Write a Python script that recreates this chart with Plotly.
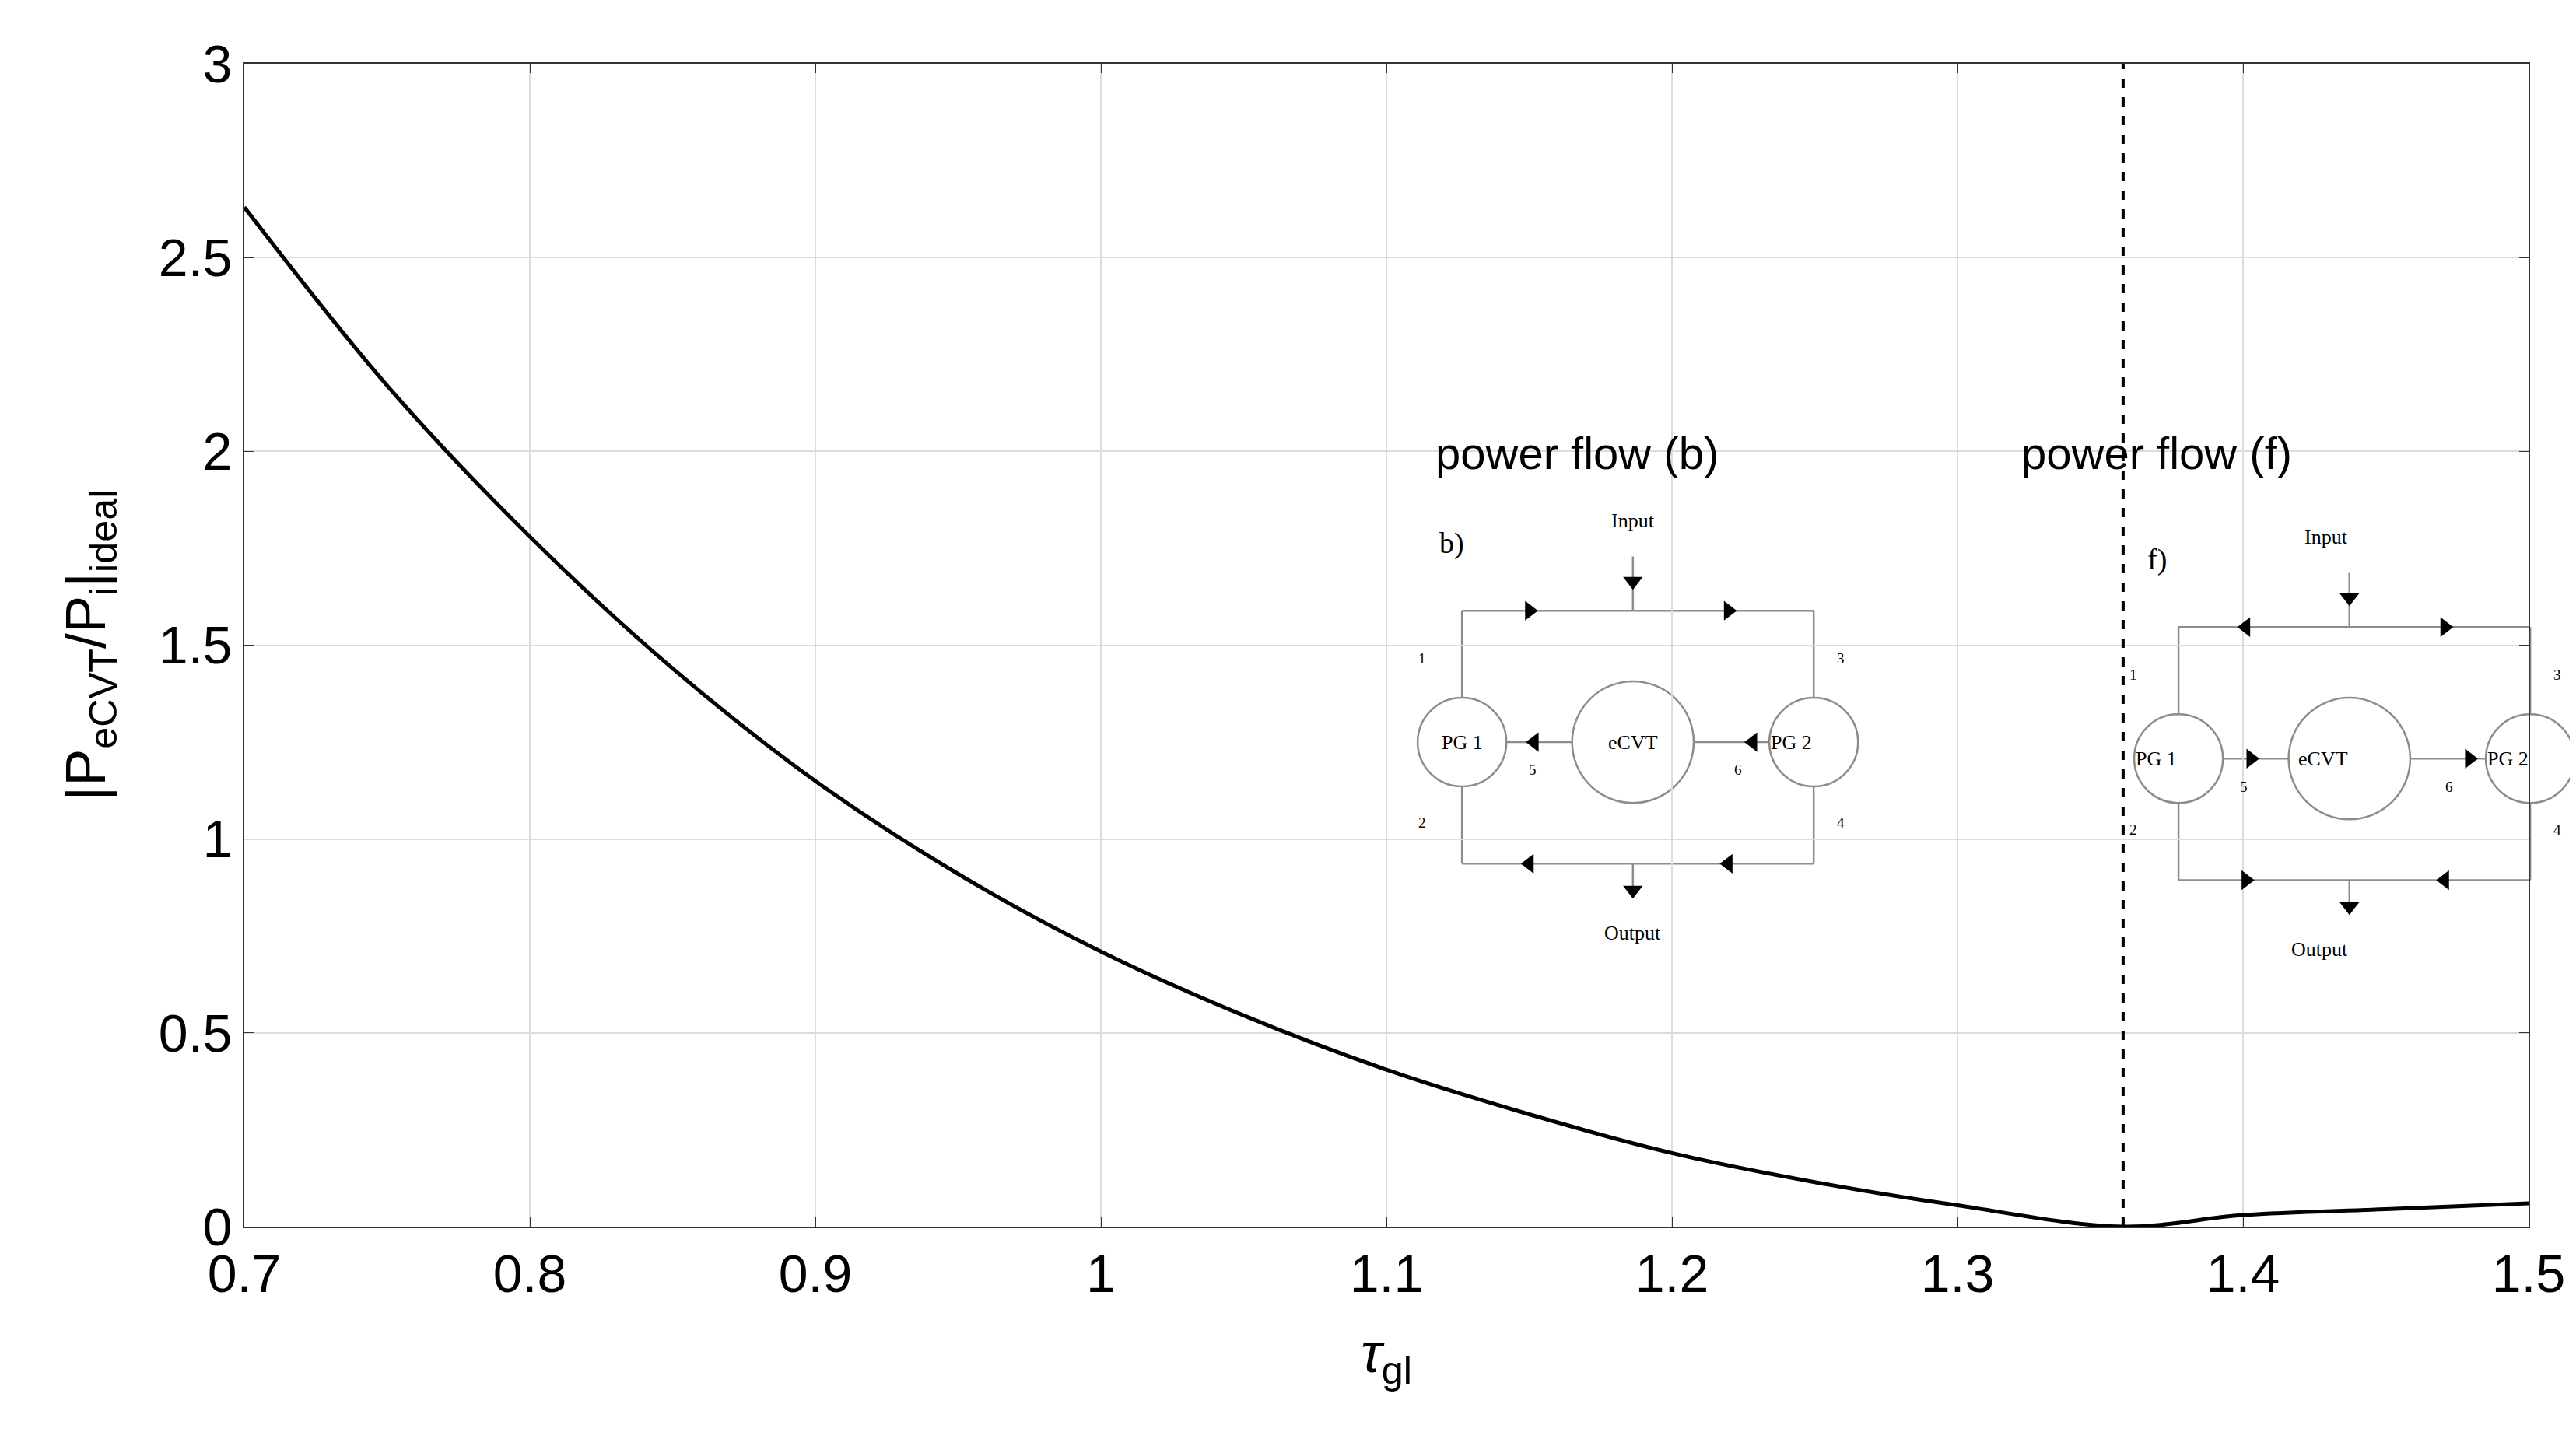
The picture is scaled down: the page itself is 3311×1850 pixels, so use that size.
import plotly.graph_objects as go

tau = [0.70, 0.75, 0.80, 0.85, 0.90, 0.95, 1.00, 1.05, 1.10, 1.15, 1.20, 1.25, 1.30, 1.358, 1.40, 1.45, 1.50]
ratio = [2.63, 2.17, 1.78, 1.44, 1.15, 0.91, 0.71, 0.545, 0.405, 0.29, 0.19, 0.115, 0.055, 0.0, 0.03, 0.045, 0.06]
x_ticks = [0.7, 0.8, 0.9, 1, 1.1, 1.2, 1.3, 1.4, 1.5]
y_ticks = [0, 0.5, 1, 1.5, 2, 2.5, 3]
switch_tau = 1.358

# reference pixel -> paper coords for the inset diagrams
def X(px):
    return (px - 145) / 1390.0

def Y(py):
    return (743 - py) / 708.0

GRAY = "#8c8c8c"
fig = go.Figure()
fig.add_trace(go.Scatter(x=tau, y=ratio, mode="lines", line=dict(color="black", width=5, shape="spline"),
                         showlegend=False))

shapes = []
annots = []
marks = {"x": [], "y": [], "s": []}

def line(x0, y0, x1, y1):
    shapes.append(dict(type="line", xref="paper", yref="paper", x0=X(x0), y0=Y(y0), x1=X(x1), y1=Y(y1),
                       line=dict(color=GRAY, width=2.5), layer="between"))

def circle(cx, cy, r):
    shapes.append(dict(type="circle", xref="paper", yref="paper", x0=X(cx - r), x1=X(cx + r), y0=Y(cy + r),
                       y1=Y(cy - r), line=dict(color=GRAY, width=2.5), fillcolor="white", layer="between"))

def text(px, py, t, size, font="Liberation Serif"):
    annots.append(dict(xref="paper", yref="paper", x=X(px), y=Y(py), text=t, showarrow=False,
                       font=dict(size=size, family=font, color="black")))

def arrow(px, py, s):
    marks["x"].append(0.7 + X(px) * 0.8); marks["y"].append(Y(py) * 3); marks["s"].append(s)

def diagram(ox, oy, top, mid, bot, tag, title):
    shapes.append(dict(type="rect", xref="paper", yref="paper", x0=X(ox - 32), x1=X(min(ox + 245, 1535)),
                       y0=Y(oy + 222), y1=Y(oy - 73), fillcolor="white", line=dict(width=0), layer="between"))
    L, R, T, B, C = ox, ox + 214, oy, oy + 154, ox + 104
    line(L, T, R, T); line(L, B, R, B)
    line(L, T, L, oy + 53); line(L, oy + 107, L, B)
    line(R, T, R, oy + 53); line(R, oy + 107, R, B)
    line(C, oy - 33, C, T); line(C, B, C, oy + 172)
    line(L + 27, oy + 80, C - 37, oy + 80); line(C + 37, oy + 80, R - 27, oy + 80)
    circle(L, oy + 80, 27); circle(C, oy + 80, 37); circle(R, oy + 80, 27)
    text(L, oy + 80, "PG 1", 26); text(C, oy + 80, "eCVT", 26); text(R, oy + 80, "PG 2", 26)
    text(C, oy - 55, "Input", 26); text(C, oy + 204, "Output", 26)
    text(L - 24, oy + 29, "1", 19); text(L - 24, oy + 129, "2", 19)
    text(R + 20, oy + 29, "3", 19); text(R + 20, oy + 129, "4", 19)
    text(L + 43, oy + 97, "5", 19); text(R - 46, oy + 97, "6", 19)
    text(L - 6, oy - 41, tag, 38)
    text(C - 34, 272, title, 58, "Liberation Sans")
    arrow(C, oy - 18, "triangle-down"); arrow(C, oy + 170, "triangle-down")
    arrow(L + 41, T, top[0]); arrow(R - 52, T, top[1])
    arrow(L + 41, B, bot[0]); arrow(R - 52, B, bot[1])
    arrow(L + 44, oy + 80, mid[0]); arrow(R - 37, oy + 80, mid[1])

diagram(886, 368, ("triangle-right", "triangle-right"), ("triangle-left", "triangle-left"),
        ("triangle-left", "triangle-left"), "b)", "power flow (b)")
diagram(1322, 378, ("triangle-left", "triangle-right"), ("triangle-right", "triangle-right"),
        ("triangle-right", "triangle-left"), "f)", "power flow (f)")

shapes.append(dict(type="line", x0=switch_tau, x1=switch_tau, y0=0, y1=3, xref="x", yref="y",
                   line=dict(color="black", width=4, dash="dash"), layer="above"))

fig.add_trace(go.Scatter(x=marks["x"], y=marks["y"], mode="markers", showlegend=False, cliponaxis=False,
                         marker=dict(symbol=marks["s"], size=22, color="black")))

axis = dict(showline=True, linecolor="#333", linewidth=2, mirror="ticks", ticks="inside", ticklen=12,
            tickcolor="#333", showgrid=True, gridcolor="#dcdcdc", gridwidth=2, zeroline=False,
            tickfont=dict(size=68, family="Liberation Sans", color="black"))
fig.update_xaxes(axis, range=[0.7, 1.5], tickvals=x_ticks,
                 title=dict(text="<i>τ</i><sub>gl</sub>", font=dict(size=72, family="Liberation Sans", color="black"), standoff=40))
fig.update_yaxes(axis, range=[0, 3], tickvals=y_ticks,
                 title=dict(text="|P<sub>eCVT</sub>/P<sub>i</sub>|<sub>ideal</sub>", font=dict(size=72, family="Liberation Sans", color="black"), standoff=45))
fig.update_layout(width=3311, height=1850, margin=dict(l=306, r=69, t=74, b=281),
                  plot_bgcolor="white", paper_bgcolor="white", shapes=shapes, annotations=annots)
fig.write_html("out.html")
